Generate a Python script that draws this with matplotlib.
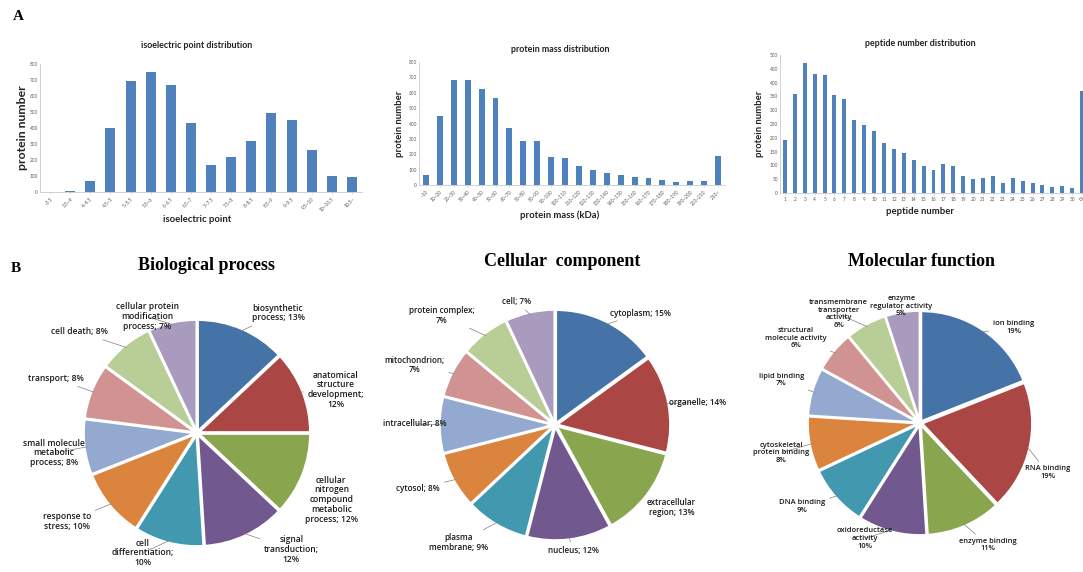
import numpy as np
import matplotlib.pyplot as plt

# ---- data ----
pi_bins = ["~3.5", "3.5~4", "4~4.5", "4.5~5", "5~5.5", "5.5~6", "6~6.5", "6.5~7",
           "7~7.5", "7.5~8", "8~8.5", "8.5~9", "9~9.5", "9.5~10", "10~10.5", "10.5~"]
pi_counts = [1, 5, 69, 397, 695, 750, 670, 434, 167, 221, 321, 493, 447, 261, 98, 92]

mass_bins = ["~10", "10~20", "20~30", "30~40", "40~50", "50~60", "60~70", "70~80",
             "80~90", "90~100", "100~110", "110~120", "120~130", "130~140", "140~150",
             "150~160", "160~170", "170~180", "180~190", "190~200", "200~210", "210~"]
mass_counts = [67, 448, 686, 686, 627, 569, 373, 287, 289, 181, 175, 125, 99, 75,
               62, 52, 43, 35, 22, 28, 28, 190]

pep_bins = ["1", "2", "3", "4", "5", "6", "7", "8", "9", "10", "11", "12", "13", "14",
            "15", "16", "17", "18", "19", "20", "21", "22", "23", "24", "25", "26",
            "27", "28", "29", "30", ">30"]
pep_counts = [191, 360, 470, 432, 428, 355, 340, 266, 248, 225, 182, 158, 145, 121,
              98, 83, 105, 98, 60, 50, 56, 60, 35, 53, 42, 35, 28, 20, 26, 18, 370]

bp_names = ["biosynthetic\nprocess", "anatomical\nstructure\ndevelopment",
            "cellular\nnitrogen\ncompound\nmetabolic\nprocess", "signal\ntransduction",
            "cell\ndifferentiation", "response to\nstress", "small molecule\nmetabolic\nprocess",
            "transport", "cell death", "cellular protein\nmodification\nprocess"]
bp_values = [13, 12, 12, 12, 10, 10, 8, 8, 8, 7]
bp_pct_newline = [False, True, False, True, True, False, False, False, False, False]

cc_names = ["cytoplasm", "organelle", "extracellular\nregion", "nucleus",
            "plasma\nmembrane", "cytosol", "intracellular", "mitochondrion",
            "protein complex", "cell"]
cc_values = [15, 14, 13, 12, 9, 8, 8, 7, 7, 7]
cc_pct_newline = [False, False, False, False, False, False, False, True, True, False]

mf_names = ["ion binding", "RNA binding", "enzyme binding", "oxidoreductase\nactivity",
            "DNA binding", "cytoskeletal\nprotein binding", "lipid binding",
            "structural\nmolecule activity", "transmembrane\ntransporter\nactivity",
            "enzyme\nregulator activity"]
mf_values = [19, 19, 11, 10, 9, 8, 7, 6, 6, 5]

# ---- style ----
plt.rcParams['font.family'] = ['Lato', 'DejaVu Sans']
bar_color = '#4F81BD'
pie_colors = ['#4572A7', '#AA4643', '#89A54E', '#71588F', '#4198AF',
              '#DB843D', '#93A9CF', '#D19392', '#B9CD96', '#A99BBD']

W, H = 1083, 572
fig = plt.figure(figsize=(W / 100, H / 100), dpi=100)


def px_axes(left, top, right, bottom):
    return fig.add_axes([left / W, 1 - bottom / H, (right - left) / W, (bottom - top) / H])


def bar_panel(box, labels, counts, ymax, ystep, title, title_xy, xlabel, xlabel_y,
              ylabel_x, ylabel_size, width, rotate):
    ax = px_axes(*box)
    x = np.arange(len(counts))
    ax.bar(x, counts, width=width, color=bar_color)
    ax.set_xlim(-0.5, len(counts) - 0.5)
    ax.set_ylim(0, ymax)
    ax.set_yticks(np.arange(0, ymax + 1, ystep))
    ax.set_xticks(x)
    if rotate:
        ax.set_xticklabels(labels, rotation=45, ha='right', rotation_mode='anchor')
    else:
        ax.set_xticklabels(labels)
    ax.tick_params(axis='both', labelsize=3.4, labelcolor='#595959', length=1.5,
                   width=0.4, color='#BFBFBF', pad=1.5)
    ax.tick_params(axis='y', length=0)
    for s in ['top', 'right']:
        ax.spines[s].set_visible(False)
    for s in ['left', 'bottom']:
        ax.spines[s].set_color('#BFBFBF')
        ax.spines[s].set_linewidth(0.5)
    fig.text(title_xy[0] / W, 1 - title_xy[1] / H, title, ha='center', va='center',
             fontsize=6.4, fontweight='bold', color='#222222')
    fig.text(title_xy[0] / W, 1 - xlabel_y / H, xlabel, ha='center', va='center',
             fontsize=6.8, fontweight='bold', color='#222222')
    fig.text(ylabel_x / W, 1 - (box[1] + box[3]) / 2 / H, 'protein number', rotation=90,
             ha='center', va='center', fontsize=ylabel_size, fontweight='bold',
             color='#222222')
    return ax


bar_panel((40, 64, 362, 192), pi_bins, pi_counts, 800, 100,
          'isoelectric point distribution', (197, 46), 'isoelectric point', 219, 23, 8.8,
          0.5, True)
bar_panel((419, 62, 725, 185), mass_bins, mass_counts, 800, 100,
          'protein mass distribution', (560, 49), 'protein mass (kDa)', 215, 400, 6.8,
          0.42, True)
bar_panel((780, 55, 1087, 193), pep_bins, pep_counts, 500, 50,
          'peptide number distribution', (920, 43), 'peptide number', 211, 760, 6.8,
          0.4, False)

fig.text(18 / W, 1 - 17 / H, 'A', fontfamily='Liberation Serif', fontweight='bold',
         fontsize=11, ha='center', va='center')
fig.text(16 / W, 1 - 268 / H, 'B', fontfamily='Liberation Serif', fontweight='bold',
         fontsize=11, ha='center', va='center')


def pie_panel(center, radius, values, labels, label_pos, label_size, title, title_xy):
    half = 1.6 * radius
    ax = px_axes(center[0] - half, center[1] - half, center[0] + half, center[1] + half)
    wedges, _ = ax.pie(values, colors=pie_colors, startangle=90, counterclock=False,
                       explode=[0.02] * len(values),
                       wedgeprops=dict(edgecolor='white', linewidth=1.5))
    ax.set_xlim(-1.6, 1.6)
    ax.set_ylim(-1.6, 1.6)
    ax.set_aspect('equal')
    ax.axis('off')
    for w, lab, pos in zip(wedges, labels, label_pos):
        ang = np.deg2rad((w.theta1 + w.theta2) / 2)
        ax.annotate(lab, xy=(np.cos(ang) * 1.0, np.sin(ang) * 1.0), xytext=pos,
                    ha='center', va='center', fontsize=label_size, fontfamily='Open Sans',
                    fontweight='semibold', color='#1a1a1a', linespacing=1.1,
                    arrowprops=dict(arrowstyle='-', color='#7F7F7F', lw=0.5,
                                    shrinkA=1, shrinkB=0))
    fig.text(title_xy[0] / W, 1 - title_xy[1] / H, title, ha='center', va='center',
             fontfamily='Liberation Serif', fontweight='bold', fontsize=13)


bp_labels = [n + (";\n" if nl else "; ") + f"{v}%" for n, v, nl in zip(bp_names, bp_values, bp_pct_newline)]
cc_labels = [n + (";\n" if nl else "; ") + f"{v}%" for n, v, nl in zip(cc_names, cc_values, cc_pct_newline)]
mf_labels = [n + f"\n{v}%" for n, v in zip(mf_names, mf_values)]

bp_pos = [(0.73, 1.08), (1.25, 0.39), (1.21, -0.60), (0.85, -1.05), (-0.49, -1.08),
          (-1.17, -0.80), (-1.29, -0.18), (-1.27, 0.49), (-1.06, 0.91), (-0.45, 1.05)]
cc_pos = [(0.76, 0.99), (1.26, 0.20), (1.03, -0.73), (0.16, -1.11), (-0.85, -1.04),
          (-1.21, -0.56), (-1.24, 0.01), (-1.24, 0.53), (-1.0, 0.97), (-0.34, 1.09)]
mf_pos = [(0.85, 0.87), (1.16, -0.45), (0.62, -1.11), (-0.5, -1.05), (-1.07, -0.76),
          (-1.26, -0.27), (-1.26, 0.39), (-1.13, 0.77), (-0.74, 0.99), (-0.17, 1.06)]

pie_panel((197, 433), 111, bp_values, bp_labels, bp_pos, 6.1, 'Biological process', (207, 265))
pie_panel((555, 425), 113, cc_values, cc_labels, cc_pos, 5.9, 'Cellular  component', (562, 262))
pie_panel((920, 423), 110, mf_values, mf_labels, mf_pos, 5.4, 'Molecular function', (922, 262))

fig.savefig('out.png', dpi=100)
